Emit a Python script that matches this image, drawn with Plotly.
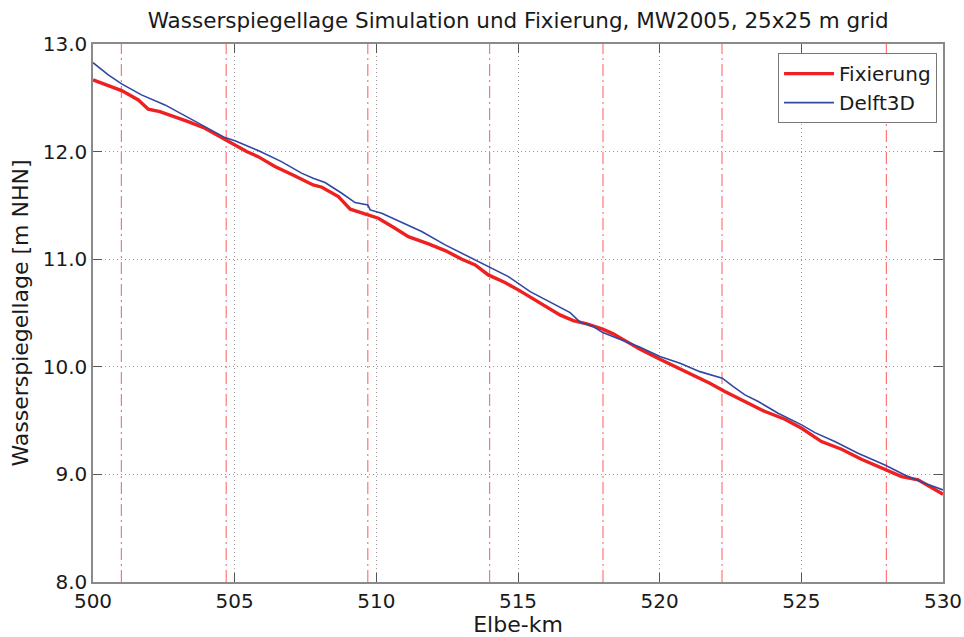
import plotly.graph_objects as go

# Water level along the Elbe (km) – fixation vs. Delft3D simulation
fix_km = [500.0, 501.01, 501.6, 501.95, 502.36, 502.89, 503.36, 503.95, 504.66, 505.01,
          505.42, 505.83, 506.42, 507.13, 507.77, 508.08, 508.66, 509.08, 509.66, 510.07,
          510.66, 511.13, 511.84, 512.43, 513.02, 513.49, 513.95, 514.54, 515.01, 515.78,
          516.48, 516.95, 517.43, 517.99, 518.36, 518.84, 519.31, 520.01, 520.6, 521.19,
          521.77, 522.3, 523.01, 523.72, 524.42, 525.01, 525.71, 526.42, 527.12, 528.0,
          528.54, 529.12, 529.6, 530.0]
fix_wsp = [12.666, 12.567, 12.48, 12.394, 12.372, 12.325, 12.279, 12.217, 12.109, 12.056,
           12.0, 11.953, 11.861, 11.774, 11.69, 11.669, 11.582, 11.465, 11.418, 11.381,
           11.288, 11.21, 11.142, 11.08, 11.0, 10.947, 10.854, 10.783, 10.715, 10.591,
           10.482, 10.43, 10.399, 10.35, 10.306, 10.234, 10.163, 10.07, 9.993, 9.915,
           9.848, 9.77, 9.677, 9.584, 9.513, 9.429, 9.305, 9.234, 9.141, 9.042,
           8.98, 8.949, 8.872, 8.816]

d3d_km = [500.0, 500.54, 501.01, 501.71, 502.54, 503.25, 503.95, 504.66, 505.01, 505.83,
          506.65, 507.36, 507.77, 508.19, 508.78, 509.25, 509.7, 509.78, 510.19, 510.78,
          511.6, 512.43, 513.25, 513.95, 514.66, 515.43, 515.78, 516.37, 516.84, 517.19,
          517.66, 517.99, 518.48, 519.31, 520.01, 520.72, 521.42, 522.21, 522.6, 523.01,
          523.48, 524.18, 525.01, 525.48, 526.18, 527.0, 527.95, 528.65, 529.36, 530.0]
d3d_wsp = [12.827, 12.713, 12.629, 12.527, 12.434, 12.332, 12.232, 12.13, 12.1, 12.01,
           11.907, 11.8, 11.753, 11.712, 11.613, 11.526, 11.505, 11.458, 11.428, 11.356,
           11.257, 11.133, 11.024, 10.938, 10.838, 10.699, 10.652, 10.566, 10.504, 10.415,
           10.374, 10.318, 10.266, 10.182, 10.095, 10.033, 9.955, 9.894, 9.816, 9.739,
           9.677, 9.569, 9.46, 9.388, 9.305, 9.197, 9.088, 8.995, 8.918, 8.856]

# Marker positions (Elbe-km) drawn as vertical dash-dot lines
marker_km = [501.0, 504.7, 509.7, 514.0, 518.0, 522.2, 528.0]

x_ticks = [500, 505, 510, 515, 520, 525, 530]
y_ticks = [8.0, 9.0, 10.0, 11.0, 12.0, 13.0]

FONT = "DejaVu Sans"
TXT = "#1a1a1a"

fig = go.Figure()

fig.add_trace(go.Scatter(
    x=fix_km, y=fix_wsp, mode="lines", name="Fixierung",
    line=dict(color="#ee2020", width=3.4),
))
fig.add_trace(go.Scatter(
    x=d3d_km, y=d3d_wsp, mode="lines", name="Delft3D",
    line=dict(color="#3048a4", width=1.6),
))

for km in marker_km:
    fig.add_shape(
        type="line", xref="x", yref="paper", x0=km, x1=km, y0=0, y1=1,
        line=dict(color="#ff5a5a", width=1, dash="12px,4px,2px,4px"),
        layer="below",
    )

axis_common = dict(
    automargin=False,
    showline=True, linecolor="#8a8a8a", linewidth=1.5, mirror="ticks",
    ticks="inside", ticklen=9, tickcolor="#555555", tickwidth=1,
    showgrid=True, gridcolor="#9a9a9a", gridwidth=1, griddash="1px,3px",
    zeroline=False,
    tickfont=dict(family=FONT, size=20, color=TXT),
)

fig.update_xaxes(
    range=[500, 530], tickvals=x_ticks, ticktext=[str(v) for v in x_ticks],
    title=dict(text="Elbe-km", font=dict(family=FONT, size=22, color=TXT), standoff=2),
    **axis_common,
)
fig.update_yaxes(
    range=[8, 13], tickvals=y_ticks, ticktext=[f"{v:.1f}" for v in y_ticks],
    title=dict(text="Wasserspiegellage [m NHN]", font=dict(family=FONT, size=22, color=TXT), standoff=8),
    **axis_common,
)

fig.update_layout(
    width=964, height=637,
    margin=dict(l=93, r=21, t=44, b=55),
    paper_bgcolor="white", plot_bgcolor="white",
    title=dict(
        text="Wasserspiegellage Simulation und Fixierung, MW2005, 25x25 m grid",
        font=dict(family=FONT, size=21.5, color=TXT),
        x=0.5375, xanchor="center", y=0.968, yanchor="middle",
    ),
    showlegend=True,
    legend=dict(
        x=0.993, xanchor="right", y=0.983, yanchor="top",
        bgcolor="white", bordercolor="#777777", borderwidth=1,
        font=dict(family=FONT, size=20, color=TXT),
        itemwidth=50, tracegroupgap=0,
    ),
)

fig.write_html("out.html")
